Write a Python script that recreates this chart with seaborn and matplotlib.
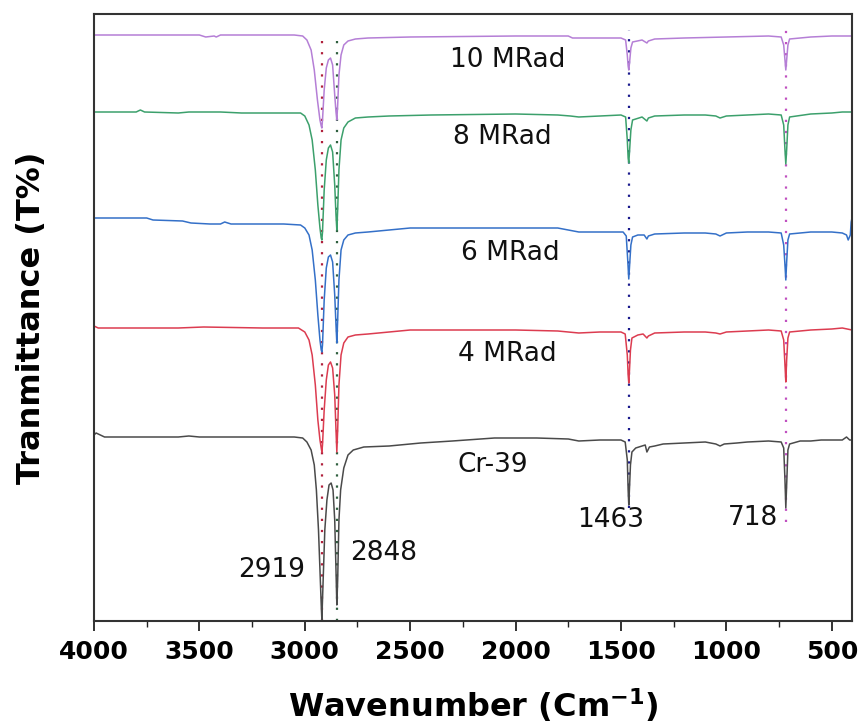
import numpy as np
import pandas as pd
import matplotlib
matplotlib.use("Agg")
import matplotlib.pyplot as plt
from matplotlib.ticker import MultipleLocator
import seaborn as sns

# ---------------- data (offset transmittance, a.u.) ----------------
wn_cr39 = [4000, 3990, 3950, 3600, 3550, 3500, 3200, 3050, 3010, 2990, 2970, 2955, 2945, 2935, 2928, 2922, 2919, 2916,
           2905, 2895, 2885, 2875, 2866, 2858, 2852, 2848, 2844, 2838, 2830, 2815, 2795, 2770, 2720, 2600, 2450, 2300,
           2100, 1900, 1750, 1700, 1600, 1500, 1480, 1470, 1466, 1463, 1460, 1455, 1448, 1430, 1400, 1385, 1377, 1372,
           1365, 1340, 1300, 1200, 1100, 1050, 1030, 1010, 950, 900, 800, 740, 728, 722, 718, 714, 708, 700, 650, 600,
           550, 500, 450, 430, 415, 404]
t_cr39 = [186, 188, 184, 184, 185, 184, 184, 184, 183, 179, 171, 156, 131, 91, 51, 16, 1, 21,
          91, 121, 136, 138, 131, 101, 51, 16, 41, 101, 131, 153, 166, 171, 174, 175, 178, 180,
          183, 183, 182, 180, 181, 181, 179, 161, 131, 116, 131, 156, 169, 173, 175, 176, 169, 171,
          174, 175, 177, 178, 179, 177, 175, 177, 178, 179, 180, 179, 173, 141, 113, 136, 171, 177, 180, 180,
          181, 181, 181, 184, 181, 181]

wn_4mrad = [4000, 3980, 3600, 3480, 3200, 3030, 3000, 2980, 2965, 2950, 2938, 2928, 2922, 2919, 2916, 2908, 2898,
            2888, 2878, 2868, 2858, 2852, 2848, 2844, 2838, 2828, 2815, 2795, 2760, 2700, 2600, 2500, 2300, 2000,
            1800, 1700, 1600, 1500, 1480, 1470, 1466, 1463, 1460, 1455, 1448, 1420, 1395, 1377, 1370, 1340, 1200,
            1100, 1050, 1030, 1000, 900, 800, 740, 728, 722, 718, 714, 708, 700, 600, 500, 450, 404]
t_4mrad = [295, 293, 293, 294, 293, 293, 289, 281, 266, 236, 201, 181, 173, 169, 176, 211, 241,
           256, 259, 253, 226, 191, 169, 191, 236, 266, 278, 284, 286, 287, 289, 291, 291, 291,
           290, 288, 289, 289, 287, 266, 246, 238, 249, 271, 283, 286, 287, 283, 285, 288, 289,
           289, 288, 287, 289, 290, 291, 290, 281, 256, 239, 261, 283, 289, 291, 292, 293, 291]

wn_6mrad = [4000, 3750, 3720, 3580, 3540, 3450, 3400, 3380, 3350, 3100, 3020, 3000, 2980, 2965, 2950, 2938, 2928,
            2922, 2919, 2916, 2908, 2898, 2888, 2878, 2868, 2858, 2852, 2848, 2844, 2838, 2828, 2815, 2795, 2760,
            2700, 2600, 2500, 2200, 1800, 1750, 1700, 1550, 1490, 1475, 1468, 1463, 1459, 1453, 1445, 1420, 1390,
            1377, 1370, 1340, 1200, 1100, 1050, 1030, 1000, 900, 800, 740, 728, 722, 718, 714, 708, 700, 600, 500,
            450, 430, 422, 418, 412, 408, 404]
t_6mrad = [403, 403, 401, 400, 398, 397, 397, 399, 397, 397, 396, 393, 386, 371, 341, 306, 281,
           271, 269, 276, 321, 353, 364, 366, 359, 326, 296, 278, 301, 341, 371, 381, 386, 388,
           389, 391, 393, 393, 393, 391, 389, 389, 389, 385, 361, 342, 356, 376, 384, 386, 386,
           382, 385, 387, 388, 388, 387, 385, 388, 389, 389, 388, 376, 356, 341, 359, 381, 387, 389, 389,
           388, 386, 381, 383, 386, 399, 403]

wn_8mrad = [4000, 3800, 3780, 3760, 3600, 3550, 3400, 3300, 3020, 3000, 2980, 2965, 2950, 2938, 2928, 2922, 2919,
            2916, 2908, 2898, 2888, 2878, 2868, 2858, 2852, 2848, 2844, 2838, 2828, 2815, 2795, 2760, 2700, 2600,
            2400, 2000, 1800, 1740, 1700, 1600, 1500, 1478, 1470, 1466, 1463, 1459, 1453, 1445, 1400, 1377, 1370,
            1340, 1200, 1100, 1050, 1030, 1000, 900, 800, 740, 728, 722, 718, 714, 708, 700, 600, 500, 450, 404]
t_8mrad = [509, 509, 511, 509, 508, 509, 509, 508, 508, 505, 496, 481, 451, 416, 393, 383, 381,
           389, 431, 461, 473, 476, 469, 436, 406, 391, 411, 451, 481, 493, 499, 503, 504, 505,
           506, 507, 506, 505, 504, 505, 506, 504, 481, 463, 458, 471, 491, 501, 504, 500, 503,
           505, 506, 506, 505, 503, 505, 506, 507, 506, 496, 471, 457, 471, 496, 504, 507, 508, 509, 509]

wn_10mrad = [4000, 3500, 3470, 3430, 3420, 3400, 3050, 3010, 2990, 2970, 2955, 2940, 2928, 2922, 2919, 2916, 2908,
             2898, 2888, 2878, 2868, 2858, 2852, 2848, 2844, 2838, 2828, 2815, 2795, 2760, 2700, 2500, 2000, 1750,
             1730, 1600, 1500, 1478, 1470, 1466, 1463, 1459, 1453, 1445, 1400, 1377, 1370, 1340, 1200, 1000, 800,
             740, 728, 722, 718, 714, 708, 700, 600, 500, 404]
t_10mrad = [586, 586, 584, 585, 584, 586, 586, 585, 581, 571, 551, 521, 501, 495, 493, 501, 531,
            553, 561, 563, 556, 526, 509, 501, 516, 546, 566, 576, 580, 582, 583, 584, 585, 585,
            583, 583, 583, 581, 566, 555, 551, 559, 573, 579, 581, 578, 580, 582, 583, 584, 585,
            584, 576, 561, 551, 561, 576, 582, 584, 585, 585]

series_names = ["Cr-39", "4 MRad", "6 MRad", "8 MRad", "10 MRad"]
series_colors = ["#4a4a4a", "#dc3c50", "#3470c8", "#3ca06c", "#b57fd6"]

label_text = ["10 MRad", "8 MRad", "6 MRad", "4 MRad", "Cr-39"]
label_wn = [2039, 2063, 2025, 2039, 2110]
label_t = [561, 484, 368, 267, 156]

peak_wn = [2919, 2848, 1463, 718]
peak_label_wn = [3155, 2628, 1550, 876]
peak_label_t = [51, 68, 101, 103]
peak_line_top = [583, 581, 591, 596]
peak_line_bottom = [0, 0, 113, 99]
peak_line_colors = ["#b0203c", "#2f5f3f", "#1a1a8c", "#c050c0"]

# ---------------- figure ----------------
sns.set_style("white")
plt.rcParams["font.family"] = ["DejaVu Sans"]

fig = plt.figure(figsize=(8.58, 7.24), dpi=100)
ax = fig.add_axes([94 / 858, 1 - 621 / 724, (852 - 94) / 858, (621 - 14) / 724])

frames = []
for name, wn, t in zip(series_names,
                       [wn_cr39, wn_4mrad, wn_6mrad, wn_8mrad, wn_10mrad],
                       [t_cr39, t_4mrad, t_6mrad, t_8mrad, t_10mrad]):
    frames.append(pd.DataFrame({"wn": wn, "T": t, "sample": name}))
df = pd.concat(frames, ignore_index=True)

sns.lineplot(data=df, x="wn", y="T", hue="sample", palette=dict(zip(series_names, series_colors)),
             estimator=None, sort=True, linewidth=1.1, legend=False, ax=ax)

for x, y0, y1, c in zip(peak_wn, peak_line_bottom, peak_line_top, peak_line_colors):
    ax.vlines(x, y0, y1, colors=c, linestyles=(0, (1, 4)), linewidth=1.6, zorder=1)

for txt, x, y in zip(label_text, label_wn, label_t):
    ax.text(x, y, txt, ha="center", va="center", fontsize=19, color="#111111")

for x, lx, ly in zip(peak_wn, peak_label_wn, peak_label_t):
    ax.text(lx, ly, str(x), ha="center", va="center", fontsize=19, color="#111111")

ax.set_xlim(4000, 404)
ax.set_ylim(0, 607)
ax.xaxis.set_major_locator(MultipleLocator(500))
ax.xaxis.set_minor_locator(MultipleLocator(250))
ax.tick_params(axis="x", which="major", direction="out", length=7, width=1.3, bottom=True, top=False,
               labelsize=18, pad=7, colors="#222222", labelcolor="black")
ax.tick_params(axis="x", which="minor", direction="out", length=4, width=1.0, bottom=True, top=False,
               colors="#222222")
ax.tick_params(axis="y", left=False, labelleft=False)
for lab in ax.get_xticklabels():
    lab.set_fontweight("bold")

for s in ax.spines.values():
    s.set_visible(True)
    s.set_color("#333333")
    s.set_linewidth(1.5)

ax.set_xlabel("Wavenumber (Cm$^{\\mathbf{-1}}$)", fontsize=23, fontweight="bold", labelpad=16, color="black")
ax.set_ylabel("Tranmittance (T%)", fontsize=23, fontweight="bold", labelpad=34, color="black")

fig.savefig("out.png", dpi=100)
